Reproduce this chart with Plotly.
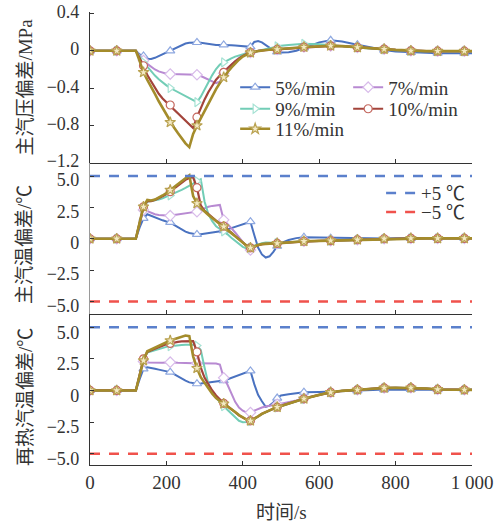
import plotly.graph_objects as go
from plotly.subplots import make_subplots

# ---------------- data ----------------
T = [0, 70, 120, 130, 140, 150, 160, 170, 180, 190,
     200, 210, 220, 230, 240, 250, 260, 270, 280, 290,
     300, 310, 320, 330, 340, 350, 360, 370, 380, 390,
     400, 410, 420, 430, 440, 450, 460, 470, 480, 490,
     500, 520, 540, 560, 600, 630, 660, 700, 740, 770,
     800, 840, 880, 910, 950, 980, 1000]

SERIES = ["5%/min", "7%/min", "9%/min", "10%/min", "11%/min"]

# main steam pressure deviation / MPa
P5 = [0, 0, 0, -0.04, -0.055, -0.085, -0.088, -0.075, -0.055, -0.035,
      -0.015, 0.0, 0.02, 0.045, 0.065, 0.078, 0.085, 0.088, 0.089, 0.085,
      0.078, 0.07, 0.065, 0.062, 0.062, 0.063, 0.062, 0.06, 0.057, 0.053,
      0.048, 0.044, 0.042, 0.095, 0.105, 0.09, 0.06, 0.03, 0.005, -0.012,
      -0.018, -0.015, 0.0, 0.03, 0.09, 0.112, 0.1, 0.064, 0.03, 0.008,
      -0.008, -0.018, -0.022, -0.025, -0.025, -0.025, -0.025]
P7 = [0, 0, 0, -0.05, -0.105, -0.14, -0.17, -0.2, -0.22, -0.235,
      -0.245, -0.249, -0.25, -0.25, -0.249, -0.249, -0.25, -0.253, -0.256, -0.27,
      -0.29, -0.31, -0.33, -0.345, -0.33, -0.24, -0.185, -0.145, -0.105, -0.075,
      -0.052, -0.033, -0.018, -0.008, 0.0, 0.005, 0.01, 0.012, 0.014, 0.015,
      0.018, 0.025, 0.033, 0.04, 0.05, 0.053, 0.05, 0.036, 0.024, 0.018,
      0.01, 0.0, -0.003, -0.004, -0.004, -0.004, -0.004]
P9 = [0, 0, 0, -0.06, -0.124, -0.17, -0.22, -0.265, -0.305, -0.34,
      -0.37, -0.398, -0.42, -0.44, -0.46, -0.48, -0.5, -0.525, -0.55, -0.49,
      -0.41, -0.33, -0.26, -0.195, -0.148, -0.124, -0.1, -0.08, -0.062, -0.048,
      -0.036, -0.026, -0.02, -0.01, 0.0, 0.01, 0.02, 0.03, 0.04, 0.048,
      0.055, 0.063, 0.07, 0.075, 0.07, 0.062, 0.052, 0.036, 0.022, 0.014,
      0.006, -0.002, -0.005, -0.006, -0.006, -0.006, -0.006]
P10 = [0, 0, 0, -0.08, -0.16, -0.26, -0.33, -0.4, -0.46, -0.51,
       -0.55, -0.58, -0.62, -0.66, -0.7, -0.74, -0.78, -0.825, -0.71, -0.61,
       -0.52, -0.44, -0.37, -0.31, -0.265, -0.23, -0.19, -0.15, -0.112, -0.08,
       -0.055, -0.035, -0.018, -0.008, 0.0, 0.005, 0.01, 0.012, 0.014, 0.015,
       0.018, 0.025, 0.033, 0.04, 0.05, 0.053, 0.05, 0.036, 0.024, 0.018,
       0.01, 0.0, -0.003, -0.004, -0.004, -0.004, -0.004]
P11 = [0, 0, 0, -0.11, -0.23, -0.31, -0.38, -0.46, -0.54, -0.61,
       -0.69, -0.765, -0.82, -0.88, -0.94, -0.99, -1.03, -0.89, -0.8, -0.72,
       -0.64, -0.56, -0.49, -0.41, -0.345, -0.284, -0.23, -0.18, -0.135, -0.095,
       -0.062, -0.037, -0.02, -0.01, -0.002, 0.004, 0.009, 0.012, 0.014, 0.015,
       0.018, 0.025, 0.033, 0.04, 0.05, 0.053, 0.05, 0.036, 0.024, 0.018,
       0.01, 0.0, -0.003, -0.004, -0.004, -0.004, -0.004]

# main steam temperature deviation / C
M5 = [0, 0, 0, 0.9, 1.63, 1.95, 1.82, 1.7, 1.58, 1.47,
      1.38, 1.3, 1.1, 0.9, 0.72, 0.57, 0.46, 0.39, 0.35, 0.36,
      0.4, 0.45, 0.5, 0.55, 0.6, 0.64, 0.75, 0.85, 0.95, 1.05,
      1.15, 1.27, 1.36, 0.3, -0.7, -1.25, -1.5, -1.4, -1.05, -0.6,
      -0.35, -0.1, 0.05, 0.12, 0.1, 0.05, 0.02, 0.0, 0.0, 0.02,
      0.03, 0.03, 0.03, 0.03, 0.03, 0.03, 0.03]
M7 = [0, 0, 0, 1.2, 2.3, 2.2, 2.05, 1.95, 1.9, 1.86,
      1.84, 1.84, 1.9, 1.95, 2.0, 2.05, 2.1, 2.13, 2.16, 2.3,
      2.45, 2.55, 2.62, 2.67, 2.7, 1.5, 1.2, 0.85, 0.5, 0.1,
      -0.3, -0.65, -0.9, -0.7, -0.52, -0.43, -0.4, -0.38, -0.37, -0.37,
      -0.34, -0.28, -0.23, -0.2, -0.17, -0.15, -0.12, -0.08, -0.03, 0.0,
      0.02, 0.03, 0.03, 0.03, 0.03, 0.03, 0.03]
M9 = [0, 0, 0, 1.3, 2.45, 2.95, 3.0, 3.05, 3.12, 3.22,
      3.35, 3.45, 3.6, 3.75, 3.9, 4.05, 4.2, 4.4, 4.6, 4.75,
      2.95, 1.95, 1.4, 1.0, 0.78, 0.58, 0.35, 0.08, -0.18, -0.45,
      -0.65, -0.77, -0.72, -0.55, -0.42, -0.35, -0.3, -0.3, -0.32, -0.35,
      -0.34, -0.28, -0.23, -0.2, -0.17, -0.15, -0.12, -0.08, -0.03, 0.0,
      0.02, 0.03, 0.03, 0.03, 0.03, 0.03, 0.03]
M10 = [0, 0, 0, 1.3, 2.55, 3.0, 3.0, 3.1, 3.22, 3.38,
       3.57, 3.75, 4.0, 4.25, 4.5, 4.7, 4.85, 4.9, 4.07, 2.65,
       2.22, 1.95, 1.7, 1.45, 1.23, 1.0, 0.75, 0.48, 0.22, -0.04,
       -0.3, -0.55, -0.72, -0.62, -0.5, -0.43, -0.4, -0.38, -0.37, -0.37,
       -0.34, -0.28, -0.23, -0.2, -0.17, -0.15, -0.12, -0.08, -0.03, 0.0,
       0.02, 0.03, 0.03, 0.03, 0.03, 0.03, 0.03]
M11 = [0, 0, 0, 1.3, 2.55, 3.1, 3.05, 3.12, 3.27, 3.45,
       3.65, 3.88, 4.1, 4.35, 4.6, 4.85, 5.05, 3.4, 2.82, 2.45,
       2.15, 1.9, 1.65, 1.42, 1.2, 0.96, 0.72, 0.45, 0.2, -0.05,
       -0.3, -0.55, -0.72, -0.6, -0.5, -0.43, -0.4, -0.38, -0.37, -0.37,
       -0.34, -0.28, -0.23, -0.2, -0.17, -0.15, -0.12, -0.08, -0.03, 0.0,
       0.02, 0.03, 0.03, 0.03, 0.03, 0.03, 0.03]

# reheat steam temperature deviation / C
R5 = [0, 0, 0, 0.9, 1.71, 1.84, 1.8, 1.72, 1.65, 1.58,
      1.52, 1.45, 1.3, 1.1, 0.92, 0.77, 0.64, 0.56, 0.53, 0.55,
      0.6, 0.65, 0.69, 0.72, 0.74, 0.77, 0.88, 1.0, 1.12, 1.24,
      1.35, 1.45, 1.55, 0.5, -0.35, -0.85, -1.3, -1.2, -0.95, -0.6,
      -0.4, -0.3, -0.22, -0.14, -0.12, -0.1, -0.07, -0.03, 0.03, 0.07,
      0.08, 0.08, 0.07, 0.06, 0.06, 0.05, 0.05]
R7 = [0, 0, 0, 1.2, 2.3, 2.22, 2.2, 2.2, 2.2, 2.2,
      2.22, 2.24, 2.22, 2.2, 2.18, 2.17, 2.16, 2.16, 2.16, 2.15,
      2.15, 2.14, 2.14, 2.13, 2.05, 1.0, 0.45, -0.3, -0.9, -1.35,
      -1.6, -1.75, -1.75, -1.6, -1.45, -1.35, -1.27, -1.2, -1.15, -1.1,
      -1.05, -0.95, -0.8, -0.62, -0.35, -0.15, -0.03, 0.05, 0.15, 0.2,
      0.21, 0.21, 0.15, 0.08, 0.06, 0.05, 0.05]
R9 = [0, 0, 0, 1.2, 2.4, 3.0, 3.1, 3.2, 3.3, 3.38,
      3.45, 3.5, 3.55, 3.58, 3.6, 3.62, 3.62, 3.62, 3.55, 3.2,
      1.8, 0.5, -0.1, -0.55, -0.95, -1.25, -1.55, -1.85, -2.15, -2.4,
      -2.52, -2.5, -2.42, -2.27, -2.08, -1.88, -1.72, -1.57, -1.46, -1.34,
      -1.24, -1.07, -0.86, -0.68, -0.35, -0.15, -0.03, 0.05, 0.15, 0.2,
      0.21, 0.21, 0.15, 0.08, 0.06, 0.05, 0.05]
R10 = [0, 0, 0, 1.25, 2.5, 3.05, 3.2, 3.3, 3.42, 3.55,
       3.65, 3.72, 3.8, 3.85, 3.88, 3.9, 3.92, 3.9, 3.05, 1.8,
       1.0, 0.45, 0.0, -0.4, -0.75, -1.02, -1.26, -1.47, -1.72, -1.97,
       -2.17, -2.32, -2.4, -2.25, -2.05, -1.85, -1.7, -1.55, -1.44, -1.32,
       -1.22, -1.05, -0.85, -0.66, -0.35, -0.15, -0.03, 0.05, 0.15, 0.2,
       0.21, 0.21, 0.15, 0.08, 0.06, 0.05, 0.05]
R11 = [0, 0, 0, 1.2, 2.37, 3.1, 3.25, 3.35, 3.5, 3.65,
       3.8, 3.95, 4.05, 4.15, 4.25, 4.35, 4.3, 2.7, 1.76, 1.05,
       0.6, 0.15, -0.25, -0.6, -0.85, -1.05, -1.25, -1.45, -1.7, -1.95,
       -2.15, -2.3, -2.4, -2.25, -2.05, -1.85, -1.7, -1.55, -1.44, -1.32,
       -1.22, -1.05, -0.85, -0.66, -0.35, -0.15, -0.03, 0.05, 0.15, 0.2,
       0.21, 0.21, 0.15, 0.08, 0.06, 0.05, 0.05]

LIMIT_X = [0, 1000]
LIMIT_HI = 5.0
LIMIT_LO = -5.0
LIMIT_NAMES = ["+5 ℃", "−5 ℃"]
MARKER_STEP = 70

X_TICKS = [0, 200, 400, 600, 800, 1000]
X_TICKTEXT = ["0", "200", "400", "600", "800", "1 000"]
P_TICKS = [0.4, 0, -0.4, -0.8, -1.2]
P_TICKTEXT = ["0.4", "0", "−0.4", "−0.8", "−1.2"]
T_TICKS = [5, 2.5, 0, -2.5, -5]
T_TICKTEXT = ["5.0", "2.5", "0", "−2.5", "−5.0"]

PANELS = [[P5, P7, P9, P10, P11], [M5, M7, M9, M10, M11], [R5, R7, R9, R10, R11]]
for panel in PANELS:
    for s in panel:
        assert len(s) == len(T), len(s)

# ---------------- style ----------------
FONT = "Liberation Serif, Times New Roman, Noto Sans CJK SC, serif"
TXT = "#333333"
COLORS = ["#4a72c0", "#b88ad2", "#72cdb6", "#a3443b", "#a48c2b"]
WIDTHS = [2.0, 2.0, 2.0, 2.2, 2.6]
SYMBOLS = ["triangle-up", "diamond", "triangle-right", "circle", "star"]
MFILL = ["white", "white", "white", "white", "#f4eac6"]
MEDGE = ["#8ea8e0", "#d8bbea", "#a6e2d4", "#c4675e", "#b9a251"]
LEGENDS = ["legend", "legend", "legend3", "legend3", "legend4"]

fig = make_subplots(rows=3, cols=1, shared_xaxes=True, vertical_spacing=0)

mask = [t % MARKER_STEP == 0 for t in T]
Tm = [t for t, m in zip(T, mask) if m]

for r, panel in enumerate(PANELS, start=1):
    for i, vals in enumerate(panel):
        fig.add_trace(go.Scatter(x=T, y=vals, mode="lines",
                                 line=dict(color=COLORS[i], width=WIDTHS[i]),
                                 showlegend=False, hoverinfo="skip"), row=r, col=1)
        fig.add_trace(go.Scatter(x=Tm, y=[v for v, m in zip(vals, mask) if m], mode="markers",
                                 marker=dict(symbol=SYMBOLS[i], size=8, color=MFILL[i],
                                             line=dict(color=MEDGE[i], width=1.2)),
                                 showlegend=False, hoverinfo="skip"), row=r, col=1)

# legend entries for the series (top panel)
for i, name in enumerate(SERIES):
    fig.add_trace(go.Scatter(x=[None], y=[None], mode="lines+markers", name=name,
                             line=dict(color=COLORS[i], width=WIDTHS[i]),
                             marker=dict(symbol=SYMBOLS[i], size=8, color=MFILL[i],
                                         line=dict(color=MEDGE[i], width=1.2)),
                             legend=LEGENDS[i]), row=1, col=1)

# limit lines
for r in (2, 3):
    fig.add_trace(go.Scatter(x=LIMIT_X, y=[LIMIT_HI, LIMIT_HI], mode="lines", name=LIMIT_NAMES[0],
                             line=dict(color="#5b80cc", width=2.5, dash="10px,9px"),
                             showlegend=(r == 2), legend="legend2", hoverinfo="skip"), row=r, col=1)
    fig.add_trace(go.Scatter(x=LIMIT_X, y=[LIMIT_LO, LIMIT_LO], mode="lines", name=LIMIT_NAMES[1],
                             line=dict(color="#f0524c", width=2.5, dash="10px,9px"),
                             showlegend=(r == 2), legend="legend5", hoverinfo="skip"), row=r, col=1)

axis_common = dict(showline=True, linecolor="#333333", linewidth=1.2, ticks="inside", ticklen=4,
                   tickcolor="#333333", showgrid=False, zeroline=False, automargin=False,
                   tickfont=dict(family=FONT, size=18, color=TXT))

fig.update_xaxes(range=[0, 1000], tickvals=X_TICKS, ticktext=X_TICKTEXT, **axis_common)
fig.update_xaxes(tickfont=dict(family=FONT, size=19, color=TXT), row=3, col=1)
fig.update_xaxes(showticklabels=False, row=1, col=1)
fig.update_xaxes(showticklabels=False, row=2, col=1)

# note: in this renderer a positive ticklabelshift on a y axis moves labels downward
fig.update_yaxes(**axis_common, ticklabelstandoff=6)
fig.update_yaxes(range=[-1.2, 0.415], tickvals=P_TICKS, ticktext=P_TICKTEXT, ticklabelshift=-2,
                 domain=[0.6667, 1.0], row=1, col=1)
fig.update_yaxes(range=[-6.0, 6.04], tickvals=T_TICKS, ticktext=T_TICKTEXT, ticklabelshift=4,
                 linecolor="#9a9a9a", domain=[0.3333, 0.6667], row=2, col=1)
fig.update_yaxes(range=[-5.9, 6.05], tickvals=T_TICKS, ticktext=T_TICKTEXT, ticklabelshift=5,
                 domain=[0.0, 0.3333], row=3, col=1)

leg_common = dict(orientation="h", xanchor="left", yanchor="top", bgcolor="rgba(0,0,0,0)",
                  borderwidth=0, font=dict(family=FONT, size=19, color=TXT),
                  entrywidth=68, entrywidthmode="pixels")

fig.update_layout(
    width=502, height=524,
    margin=dict(l=90, r=30, t=12, b=59, autoexpand=False),
    paper_bgcolor="white", plot_bgcolor="white",
    font=dict(family=FONT, size=19, color=TXT),
    legend=dict(x=0.38, y=0.8757, **leg_common),
    legend3=dict(x=0.38, y=0.8280, **leg_common),
    legend4=dict(x=0.38, y=0.7838, **leg_common),
    legend2=dict(x=0.762, y=0.6421, **leg_common),
    legend5=dict(x=0.762, y=0.6000, **leg_common),
    annotations=[
        dict(text="主汽压偏差/MPa", xref="paper", yref="paper", x=-0.170, y=0.8333,
             textangle=-90, showarrow=False, xanchor="center", yanchor="middle",
             font=dict(family=FONT, size=19, color=TXT)),
        dict(text="主汽温偏差/℃", xref="paper", yref="paper", x=-0.170, y=0.4857,
             textangle=-90, showarrow=False, xanchor="center", yanchor="middle",
             font=dict(family=FONT, size=19, color=TXT)),
        dict(text="再热汽温偏差/℃", xref="paper", yref="paper", x=-0.170, y=0.150,
             textangle=-90, showarrow=False, xanchor="center", yanchor="middle",
             font=dict(family=FONT, size=19, color=TXT)),
        dict(text="时间/s", xref="paper", yref="paper", x=0.5, y=-0.1038,
             showarrow=False, xanchor="center", yanchor="middle",
             font=dict(family=FONT, size=19, color=TXT)),
    ],
)

fig.write_html("out.html")
